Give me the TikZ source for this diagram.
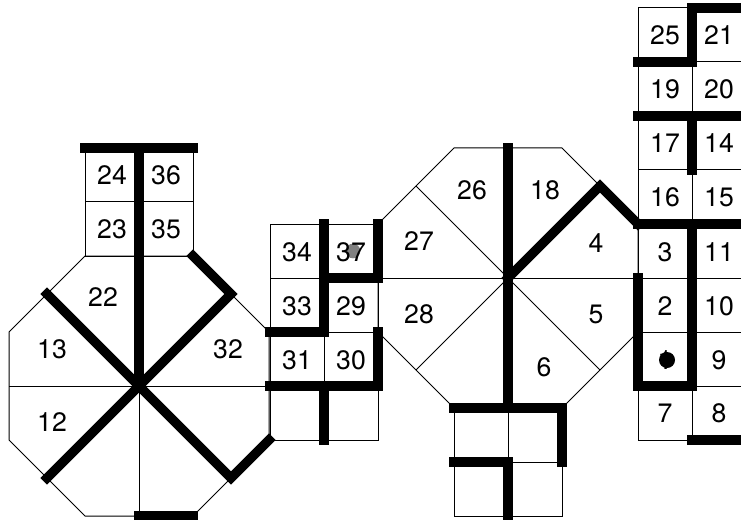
\documentclass[tikz,border=0pt]{standalone}
\usepackage{fontspec}
\usepackage{xcolor}
\setmainfont{TeX Gyre Heros}
\usetikzlibrary{positioning}
\definecolor{wallInk}{HTML}{000000}
\definecolor{markerGrey}{HTML}{808080}
\tikzset{
  thinwall/.style={
    draw=wallInk,
    line width=0.75pt
  },
  thickwall/.style={
    draw=wallInk,
    line width=7pt,
    line cap=rect
  },
  roomlabel/.style={
    font=\fontsize{20}{22}\selectfont,
    text=black,
    inner sep=0pt
  },
  marker/.style={
    circle,
    inner sep=0pt,
    minimum size=12pt
  }
}

\begin{document}
\begin{tikzpicture}[x=0.75pt,y=-0.75pt]
  \useasboundingbox (0,0) rectangle (741,520);
  % left octagon
  \draw[thinwall] (85,256) -- (193,256) -- (269,332) -- (269,440) -- (193,516) -- (85,516) -- (9,440) -- (9,332) -- cycle;
  \draw[thinwall] (9,386) -- (269,386);
  \draw[thinwall] (139,386) -- (139,516);
  \draw[thinwall] (85,148) rectangle (193,256);
  \draw[thinwall] (85,202) -- (193,202);
  % middle squares
  \draw[thinwall] (270,224) rectangle (378,440);
  \foreach \y in {278,332,386} {
    \draw[thinwall] (270,\y) -- (378,\y);
  }
  \draw[thinwall] (324,224) -- (324,440);
  % right octagon
  \draw[thinwall] (454,148) -- (562,148) -- (638,224) -- (638,332) -- (562,408) -- (454,408) -- (378,332) -- (378,224) -- cycle;
  \draw[thinwall] (378,278) -- (638,278);
  \draw[thinwall] (416,186) -- (600,370);
  \draw[thinwall] (416,370) -- (508,278);
  \draw[thinwall] (454,408) rectangle (562,516);
  \draw[thinwall] (454,462) -- (562,462);
  \draw[thinwall] (508,408) -- (508,516);
  % right column
  \draw[thinwall] (638,8) rectangle (746,440);
  \foreach \y in {62,116,170,224,278,332,386} {
    \draw[thinwall] (638,\y) -- (746,\y);
  }
  \draw[thinwall] (692,8) -- (692,440);

  \draw[thickwall] (85,148) -- (193,148);
  \draw[thickwall] (139,148) -- (139,386);
  \draw[thickwall] (47,294) -- (231,478) -- (269,440);
  \draw[thickwall] (47,478) -- (231,294) -- (193,256);
  \draw[thickwall] (139,516) -- (193,516);
  \draw[thickwall] (324,224) -- (324,332) -- (270,332);
  \draw[thickwall] (324,278) -- (378,278) -- (378,224);
  \draw[thickwall] (378,332) -- (378,386) -- (270,386);
  \draw[thickwall] (324,386) -- (324,440);
  \draw[thickwall] (508,148) -- (508,408);
  \draw[thickwall] (508,278) -- (600,186) -- (638,224);
  \draw[thickwall] (454,408) -- (562,408) -- (562,462);
  \draw[thickwall] (454,462) -- (508,462) -- (508,516);
  \draw[thickwall] (746,8) -- (692,8) -- (692,62) -- (638,62);
  \draw[thickwall] (638,116) -- (746,116);
  \draw[thickwall] (692,116) -- (692,170);
  \draw[thickwall] (638,224) -- (746,224);
  \draw[thickwall] (692,224) -- (692,386) -- (638,386) -- (638,278);
  \draw[thickwall] (692,440) -- (746,440);

  \node[marker,fill=markerGrey,minimum size=11pt] (goal) at (353,251) {};
  \foreach \name/\xpos/\ypos in {
    24/112/175, 36/166/175, 23/112/229, 35/166/229, 22/103/297, 13/52/349,
    32/228/349, 12/52/422, 34/297/252, 37/351/252, 33/297/306, 29/351/306,
    31/297/360, 30/351/360, 27/419/241, 28/419/314, 26/472/190, 18/545/190,
    6/544/367, 4/596/243, 5/596/314, 25/665/35, 21/719/35, 19/665/89,
    20/719/89, 17/665/143, 14/719/143, 16/665/197, 15/719/197, 3/665/252,
    11/719/252, 2/665/306, 10/719/306, 9/719/360, 7/665/413, 8/719/413
  } {
    \node[roomlabel] (room\name) at (\xpos,\ypos) {\name};
  }
  \node[roomlabel] (room1) at (665,360) {1};
  \node[marker,fill=black] (robot) at (667,360) {};
\end{tikzpicture}
\end{document}
